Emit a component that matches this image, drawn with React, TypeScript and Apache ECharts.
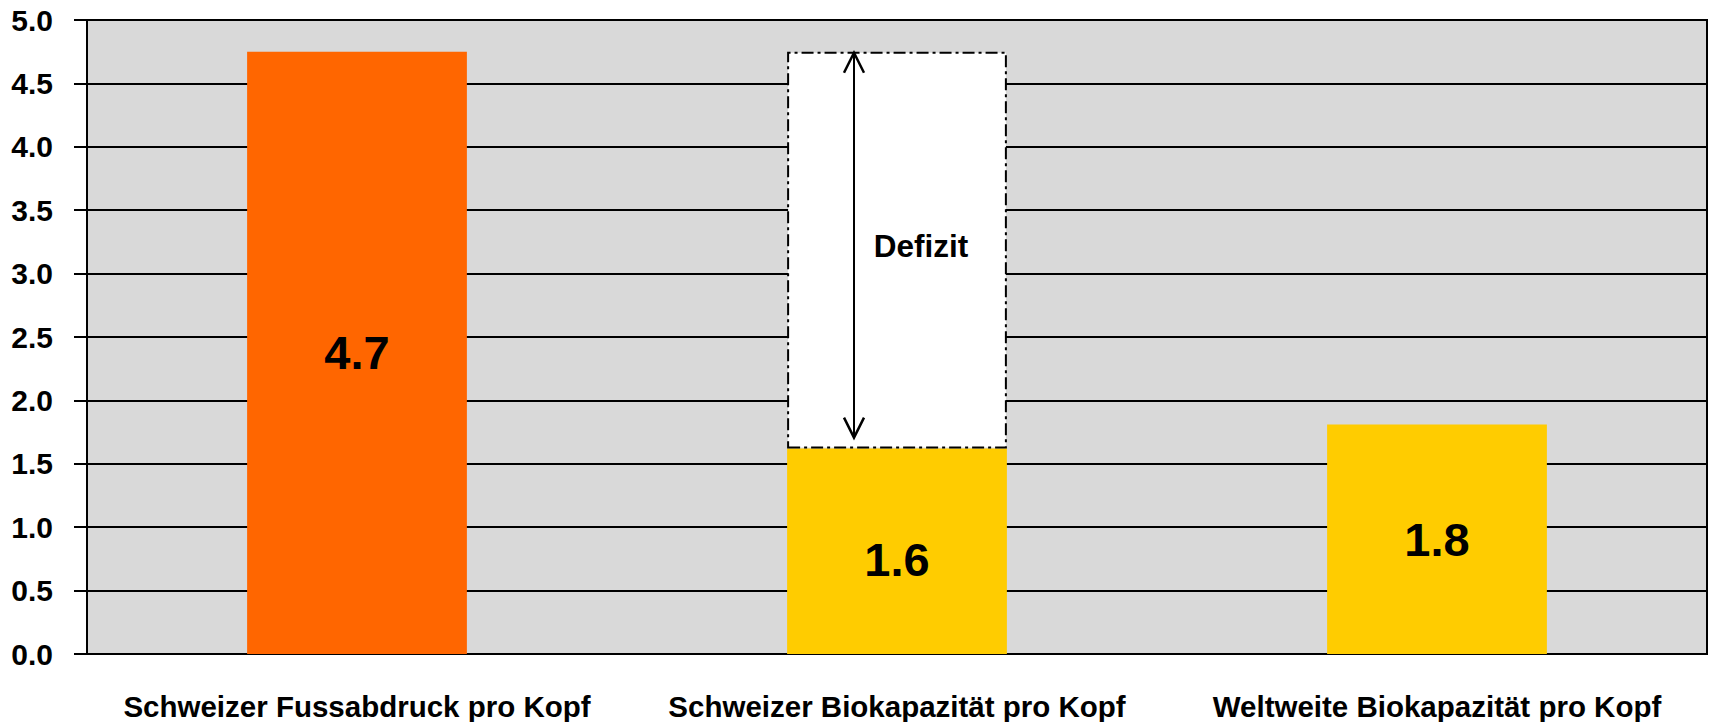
import React, { useEffect, useRef } from "react";
import * as echarts from "echarts";

const categories = [
  "Schweizer Fussabdruck pro Kopf",
  "Schweizer Biokapazität pro Kopf",
  "Weltweite Biokapazität pro Kopf",
];
const values = [4.75, 1.62, 1.81];
const valueLabels = ["4.7", "1.6", "1.8"];
const barColors = ["#FF6600", "#FFCC00", "#FFCC00"];
const deficitIndex = 1;
const deficitLabel = "Defizit";
const yTicks = { min: 0, max: 5, interval: 0.5 };

const FONT = "'Liberation Sans', Arial, sans-serif";

export default function App() {
  const ref = useRef<HTMLDivElement>(null);
  useEffect(() => {
    document.body.style.margin = "0";
    if (!ref.current) return;
    const chart = echarts.init(ref.current, undefined, { renderer: "svg" });
    const deficitValue = values[0] - values[deficitIndex];
    const deficitData = categories.map((_, i) => (i === deficitIndex ? deficitValue : "-"));
    chart.setOption({
      animation: false,
      textStyle: { fontFamily: FONT },
      grid: {
        left: 87,
        right: 2,
        top: 20,
        bottom: 68,
        show: true,
        backgroundColor: "#D9D9D9",
        borderColor: "#000",
        borderWidth: 2,
      },
      xAxis: {
        type: "category",
        data: categories,
        axisLine: { show: true, lineStyle: { color: "#000", width: 2 } },
        axisTick: { show: false },
        axisLabel: {
          margin: 37,
          color: "#000",
          fontSize: 29.5,
          fontWeight: "bold",
          fontFamily: FONT,
          interval: 0,
        },
      },
      yAxis: {
        type: "value",
        min: yTicks.min,
        max: yTicks.max,
        interval: yTicks.interval,
        axisLine: { show: true, lineStyle: { color: "#000", width: 2 } },
        axisTick: { show: true, inside: false, length: 13, lineStyle: { color: "#000", width: 2 } },
        splitLine: { show: true, lineStyle: { color: "#000", width: 2 } },
        axisLabel: {
          margin: 34,
          color: "#000",
          fontSize: 30,
          fontWeight: "bold",
          fontFamily: FONT,
          formatter: (v: number) => v.toFixed(1),
        },
      },
      series: [
        {
          type: "bar",
          stack: "total",
          barWidth: "40.7%",
          data: values.map((v, i) => ({
            value: v,
            itemStyle: { color: barColors[i] },
            label: {
              show: true,
              position: "inside",
              formatter: valueLabels[i],
              color: "#000",
              fontSize: 47,
              fontWeight: "bold",
              fontFamily: FONT,
              offset: i === deficitIndex ? [0, 8] : [0, 0],
            },
          })),
        },
        {
          type: "bar",
          stack: "total",
          barWidth: "40.7%",
          data: deficitData,
          itemStyle: {
            color: "#FFFFFF",
            borderColor: "#000",
            borderWidth: 2,
            borderType: [12, 4, 3, 4],
          },
          label: {
            show: true,
            position: "inside",
            formatter: deficitLabel,
            color: "#000",
            fontSize: 31.5,
            fontWeight: "bold",
            fontFamily: FONT,
            offset: [24, -4],
          },
        },
        {
          type: "custom",
          z: 10,
          data: [[deficitIndex, values[deficitIndex], values[0]]],
          renderItem: (params: any, api: any) => {
            const top = api.coord([api.value(0), api.value(2)]);
            const bot = api.coord([api.value(0), api.value(1)]);
            const x = top[0] - 43;
            const y1 = top[1] + 1;
            const y2 = bot[1] - 11;
            const style = { stroke: "#000", lineWidth: 2, fill: null };
            const headStyle = { stroke: "#000", lineWidth: 2.5, fill: null };
            return {
              type: "group",
              children: [
                { type: "line", shape: { x1: x, y1: y1, x2: x, y2: y2 }, style },
                {
                  type: "polyline",
                  shape: { points: [[x - 10, y1 + 20], [x, y1], [x + 10, y1 + 20]] },
                  style: headStyle,
                },
                {
                  type: "polyline",
                  shape: { points: [[x - 10, y2 - 20], [x, y2], [x + 10, y2 - 20]] },
                  style: headStyle,
                },
              ],
            };
          },
        },
      ],
    });
    return () => chart.dispose();
  }, []);
  return <div ref={ref} style={{ width: 1709, height: 722 }} />;
}
